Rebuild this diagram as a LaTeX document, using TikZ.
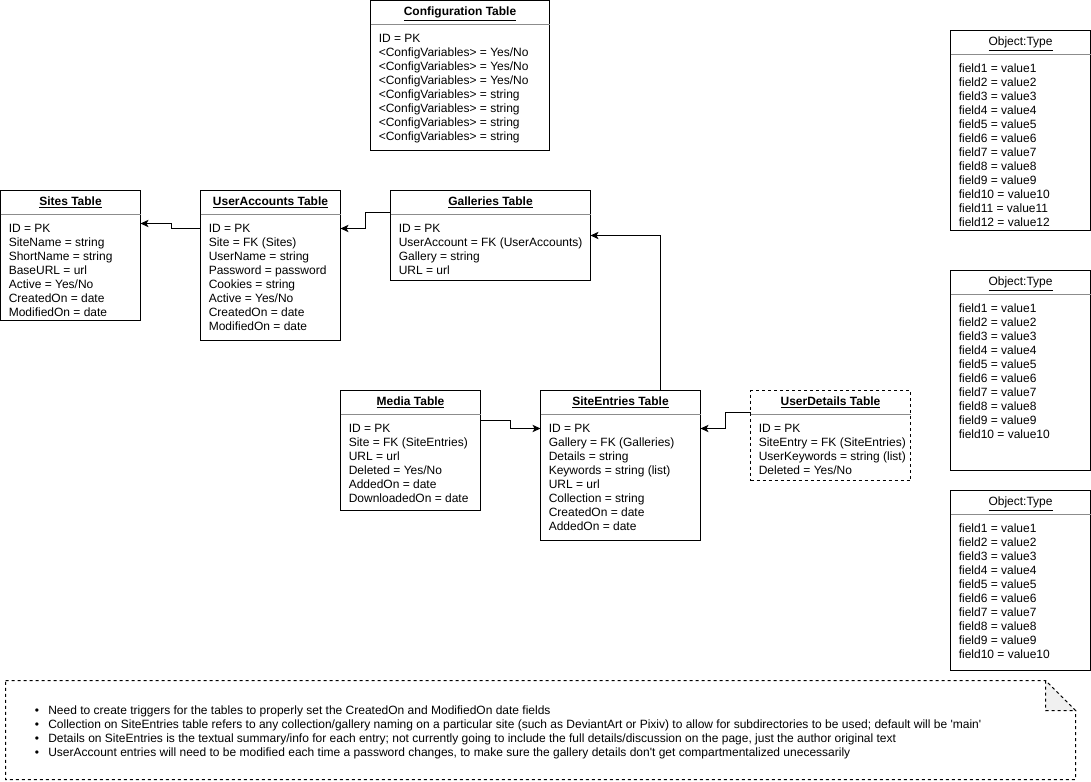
\documentclass[tikz,border=0pt]{standalone}
\usepackage{fontspec}
\newfontfamily\arialfont{Liberation Sans}
\usetikzlibrary{calc,arrows.meta}
\tikzset{
  tbl/.style={draw=black, line width=0.75pt, fill=white, anchor=north west, inner sep=0pt, outer sep=0pt},
  dashedbox/.style={dash pattern=on 2.25pt off 2.25pt},
  sepline/.style={draw=black!45, line width=0.75pt},
  cell/.style={inner sep=0pt, font=\arialfont\fontsize{9}{10.5}\selectfont},
  conn/.style={draw=black, line width=0.75pt, -{Stealth[length=6pt,width=5.5pt,inset=1.5pt]}},
  notebox/.style={draw=black, line width=0.75pt, dash pattern=on 2.25pt off 2.25pt},
}
\newcommand\dbtable[8]{%
  \node[tbl,#8, minimum width=#4*0.75pt, minimum height=#5*0.75pt] (#1) at (#2,#3) {};
  \draw[sepline] ($(#1.north west)+(0,24)$) -- ($(#1.north east)+(0,24)$);
  \node[cell, anchor=base] (#1-t) at ($(#1.north)+(0,15)$) {#6};
  \foreach \l [count=\i] in {#7}
    \node[cell, anchor=base west] (#1-\i) at ($(#1.north west)+(8,{28+14*\i})$) {\l};
}
\begin{document}
\begin{tikzpicture}[x=0.75pt,y=-0.75pt]
\useasboundingbox (0,0) rectangle (1091,781);

\dbtable{cfg}{370.5}{0.5}{179}{150}{\textbf{\underline{Configuration Table}}}{ID = PK,<ConfigVariables> = Yes/No,<ConfigVariables> = Yes/No,<ConfigVariables> = Yes/No,<ConfigVariables> = string,<ConfigVariables> = string,<ConfigVariables> = string,<ConfigVariables> = string}{}

\dbtable{sites}{0.5}{190.5}{140}{130}{\textbf{\underline{Sites Table}}}{ID = PK,SiteName = string,ShortName = string,BaseURL = url,Active = Yes/No,CreatedOn = date,ModifiedOn = date}{}

\dbtable{ua}{200.5}{190.5}{140}{150}{\textbf{\underline{UserAccounts Table}}}{ID = PK,Site = FK (Sites),UserName = string,Password = password,Cookies = string,Active = Yes/No,CreatedOn = date,ModifiedOn = date}{}

\dbtable{gal}{390.5}{190.5}{200}{90}{\textbf{\underline{Galleries Table}}}{ID = PK,UserAccount = FK (UserAccounts),Gallery = string,URL = url}{}

\dbtable{media}{340.5}{390.5}{140}{120}{\textbf{\underline{Media Table}}}{ID = PK,Site = FK (SiteEntries),URL = url,Deleted = Yes/No,AddedOn = date,DownloadedOn = date}{}

\dbtable{se}{540.5}{390.5}{160}{150}{\textbf{\underline{SiteEntries Table}}}{ID = PK,Gallery = FK (Galleries),Details = string,Keywords = string (list),URL = url,Collection = string,CreatedOn = date,AddedOn = date}{}

\dbtable{ud}{750.5}{390.5}{160}{90}{\textbf{\underline{UserDetails Table}}}{ID = PK,SiteEntry = FK (SiteEntries),UserKeywords = string (list),Deleted = Yes/No}{dashedbox}

\dbtable{obj1}{950.5}{30.5}{140}{200}{\underline{Object:Type}}{field1 = value1,field2 = value2,field3 = value3,field4 = value4,field5 = value5,field6 = value6,field7 = value7,field8 = value8,field9 = value9,field10 = value10,field11 = value11,field12 = value12}{}

\dbtable{obj2}{950.5}{270.5}{140}{200}{\underline{Object:Type}}{field1 = value1,field2 = value2,field3 = value3,field4 = value4,field5 = value5,field6 = value6,field7 = value7,field8 = value8,field9 = value9,field10 = value10}{}

\dbtable{obj3}{950.5}{490.5}{140}{180}{\underline{Object:Type}}{field1 = value1,field2 = value2,field3 = value3,field4 = value4,field5 = value5,field6 = value6,field7 = value7,field8 = value8,field9 = value9,field10 = value10}{}

% connectors
\draw[conn] (ua.west |- 0,228.5) -- (171.5,228.5) -- (171.5,223.5) -- (sites.east |- 0,223.5);
\draw[conn] (gal.west |- 0,212.5) -- (365.5,212.5) -- (365.5,228.5) -- (ua.east |- 0,228.5);
\draw[conn] (se.north -| 660.5,0) -- (660.5,235.5) -- (gal.east |- 0,235.5);
\draw[conn] (media.east |- 0,420.5) -- (510.5,420.5) -- (510.5,428.5) -- (se.west |- 0,428.5);
\draw[conn] (ud.west |- 0,412.5) -- (725.5,412.5) -- (725.5,428.5) -- (se.east |- 0,428.5);

% note
\path[notebox] (5.5,680.5) -- (1045.5,680.5) -- (1075.5,710.5) -- (1075.5,779.5) -- (5.5,779.5) -- cycle;
\coordinate (note) at (5.5,680.5);
\path[notebox, fill=black!6] (1045.5,680.5) -- (1045.5,710.5) -- (1075.5,710.5) -- cycle;
\foreach \t [count=\i] in {
  {Need to create triggers for the tables to properly set the CreatedOn and ModifiedOn date fields},
  {Collection on SiteEntries table refers to any collection/gallery naming on a particular site (such as DeviantArt or Pixiv) to allow for subdirectories to be used; default will be 'main'},
  {Details on SiteEntries is the textual summary/info for each entry; not currently going to include the full details/discussion on the page, just the author original text},
  {UserAccount entries will need to be modified each time a password changes, to make sure the gallery details don't get compartmentalized unecessarily}}
{
  \node[cell, anchor=base] (b\i) at ($(note)+(31.5,{19.5+14*\i})$) {\textbullet};
  \node[cell, anchor=base west] (n\i) at ($(note)+(42.5,{19.5+14*\i})$) {\t};
}
\end{tikzpicture}
\end{document}
